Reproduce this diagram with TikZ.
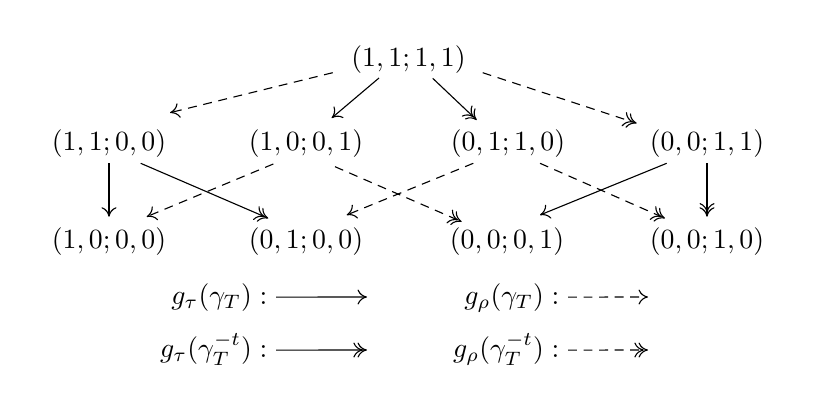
\documentclass[tikz,border=0pt]{standalone}
\usetikzlibrary{calc,arrows.meta}
\begin{document}
\begin{tikzpicture}[x=0.36pt,y=-0.36pt,
  lab/.style={inner sep=0pt},
  tipone/.style={-{Computer Modern Rightarrow[length=3.4pt,width=5.4pt]}},
  tiptwo/.style={-{Computer Modern Rightarrow[length=3.4pt,width=5.4pt,sep=-1.9pt]Computer Modern Rightarrow[length=3.4pt,width=5.4pt]}},
  sol/.style={tipone},
  soltwo/.style={tiptwo},
  dsh/.style={tipone,dash pattern=on 3.2pt off 2.4pt},
  dshtwo/.style={tiptwo,dash pattern=on 3.2pt off 2.4pt}]
\useasboundingbox (0,0) rectangle (818,401);
% nodes
\node[lab] (T) at (408.5,60) {$(1,1;1,1)$};
\node[lab] (A) at (109,144) {$(1,1;0,0)$};
\node[lab] (B) at (306,144) {$(1,0;0,1)$};
\node[lab] (C) at (508,144) {$(0,1;1,0)$};
\node[lab] (D) at (707,144) {$(0,0;1,1)$};
\node[lab] (E) at (109,242) {$(1,0;0,0)$};
\node[lab] (F) at (306,242) {$(0,1;0,0)$};
\node[lab] (G) at (507,242) {$(0,0;0,1)$};
\node[lab] (H) at (707,242) {$(0,0;1,0)$};
% top to row 2
\draw[dsh] ($(T)+(-75.8,12.7)$) -- ($(A)+(61,-31.3)$);
\draw[sol] ($(T)+(-29.5,18)$) -- ($(B)+(25.7,-26)$);
\draw[soltwo] ($(T)+(24.2,18.3)$) -- ($(C)+(-31.3,-24)$);
\draw[dshtwo] ($(T)+(74.2,12.7)$) -- ($(D)+(-70.3,-20.7)$);
% row 2 to row 3
\draw[sol] ($(A)+(0,19.3)$) -- ($(E)+(0,-25.3)$);
\draw[soltwo] ($(A)+(31.7,19.3)$) -- ($(F)+(-37.7,-23.7)$);
\draw[dsh] ($(B)+(-32.7,20)$) -- ($(E)+(37.7,-25.3)$);
\draw[dshtwo] ($(B)+(29,22.7)$) -- ($(G)+(-45.3,-20.3)$);
\draw[dsh] ($(C)+(-34.7,19.3)$) -- ($(F)+(40.7,-27)$);
\draw[dshtwo] ($(C)+(32,19.3)$) -- ($(H)+(-42,-23.7)$);
\draw[sol] ($(D)+(-40.3,19.3)$) -- ($(G)+(33,-27)$);
\draw[soltwo] ($(D)+(0,19.3)$) -- ($(H)+(0,-25.3)$);
% legend
\node[lab,anchor=base east] (L1) at (268,304) {$g_\tau(\gamma_T) :$};
\node[lab,anchor=base east] (L2) at (268,357) {$g_\tau(\gamma_T^{-t}) :$};
\node[lab,anchor=base east] (R1) at (560,304) {$g_\rho(\gamma_T) :$};
\node[lab,anchor=base east] (R2) at (560,357) {$g_\rho(\gamma_T^{-t}) :$};
\coordinate (l1e) at (367,297);
\coordinate (l2e) at (367,350);
\coordinate (r1e) at (648,297);
\coordinate (r2e) at (648,350);
\draw[sol] ($(L1.base east)+(8,-6.9)$) -- (l1e);
\draw[soltwo] ($(L2.base east)+(8,-6.9)$) -- (l2e);
\draw[dsh] ($(R1.base east)+(8,-6.9)$) -- (r1e);
\draw[dshtwo] ($(R2.base east)+(8,-6.9)$) -- (r2e);
\end{tikzpicture}
\end{document}
